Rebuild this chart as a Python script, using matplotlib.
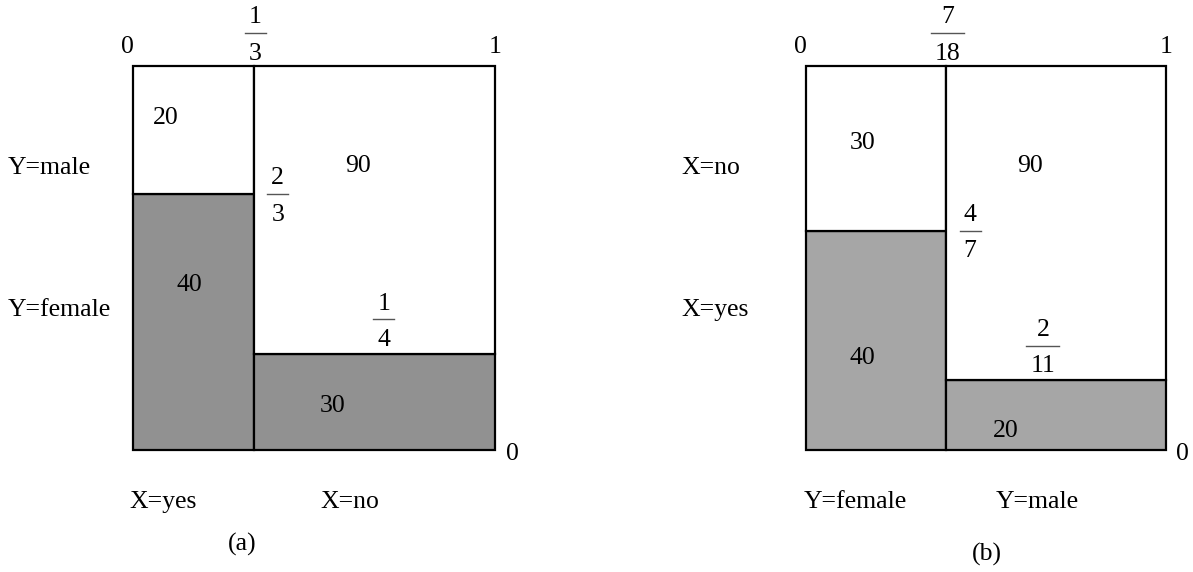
import matplotlib.pyplot as plt
from fractions import Fraction

plt.rcParams['font.family'] = ['Liberation Serif', 'DejaVu Serif']

# panel (a): columns X, rows Y (bottom level first)
cols_a = ["X=yes", "X=no"]
rows_a = ["Y=female", "Y=male"]
counts_a = [[40, 20], [30, 90]]

# panel (b): columns Y, rows X (bottom level first)
cols_b = ["Y=female", "Y=male"]
rows_b = ["X=yes", "X=no"]
counts_b = [[40, 30], [20, 90]]

W, H = 1193, 572
fig = plt.figure(figsize=(W / 100, H / 100), dpi=100)
FS = 18.5


def frac(ax, x, ybar, f, dy=0.047):
    n, d = str(f.numerator), str(f.denominator)
    half = (12 * len(d) + 9) / 2 / 362
    ax.plot([x - half, x + half], [ybar, ybar], color='#555555', lw=1.0,
            clip_on=False)
    ax.text(x, ybar + dy, n, ha='center', va='center_baseline', fontsize=FS)
    ax.text(x, ybar - dy, d, ha='center', va='center_baseline', fontsize=FS)


def mosaic(left_px, width_px, cols, rows, counts, shade, lay, tag):
    ax = fig.add_axes([left_px / W, (H - 450) / H, width_px / W, 384 / H])
    ax.set_xlim(0, 1)
    ax.set_ylim(0, 1)
    ax.axis('off')
    totals = [sum(c) for c in counts]
    widths = [Fraction(t, sum(totals)) for t in totals]
    x0 = Fraction(0)
    for j, c in enumerate(counts):
        h = Fraction(c[0], totals[j])
        low = ax.bar(float(x0), float(h), width=float(widths[j]), align='edge',
                     color=shade, edgecolor='black', lw=1.6)
        up = ax.bar(float(x0), 1 - float(h), bottom=float(h),
                    width=float(widths[j]), align='edge', color='white',
                    edgecolor='black', lw=1.6)
        for p in list(low) + list(up):
            p.set_clip_on(False)
        for k in range(2):
            px, py = lay['counts'][j][k]
            ax.text(px, py, str(c[k]), ha='center', va='center_baseline',
                    fontsize=FS)
        fx = lay['fracx'][j]
        fy = float(h) if j == 0 else float(h) + 0.09
        frac(ax, fx, fy, h)
        ax.text(lay['colx'][j], -0.13, cols[j], ha='center',
                va='center_baseline', fontsize=FS)
        x0 += widths[j]
    # top scale
    ax.text(-0.015, 1.055, "0", ha='center', va='center_baseline', fontsize=FS)
    ax.text(1.0, 1.055, "1", ha='center', va='center_baseline', fontsize=FS)
    frac(ax, float(widths[0]) + 0.005, 1.086, widths[0])
    ax.text(1.047, -0.005, "0", ha='center', va='center_baseline', fontsize=FS)
    ax.text(-0.345, 0.37, rows[0], ha='left', va='center_baseline', fontsize=FS)
    ax.text(-0.345, 0.742, rows[1], ha='left', va='center_baseline', fontsize=FS)
    ax.text(lay['tag'][0], lay['tag'][1], tag, ha='center',
            va='center_baseline', fontsize=FS)


mosaic(133, 362, cols_a, rows_a, counts_a, '#919191',
       {'counts': [[(0.157, 0.435), (0.091, 0.872)],
                   [(0.552, 0.122), (0.622, 0.747)]],
        'fracx': [0.40, 0.693], 'colx': [0.083, 0.599],
        'tag': (0.301, -0.24)}, "(a)")
mosaic(806, 360, cols_b, rows_b, counts_b, '#a6a6a6',
       {'counts': [[(0.156, 0.247), (0.156, 0.807)],
                   [(0.556, 0.057), (0.622, 0.747)]],
        'fracx': [0.456, 0.658], 'colx': [0.136, 0.642],
        'tag': (0.503, -0.266)}, "(b)")

fig.savefig("out.png", dpi=100)
